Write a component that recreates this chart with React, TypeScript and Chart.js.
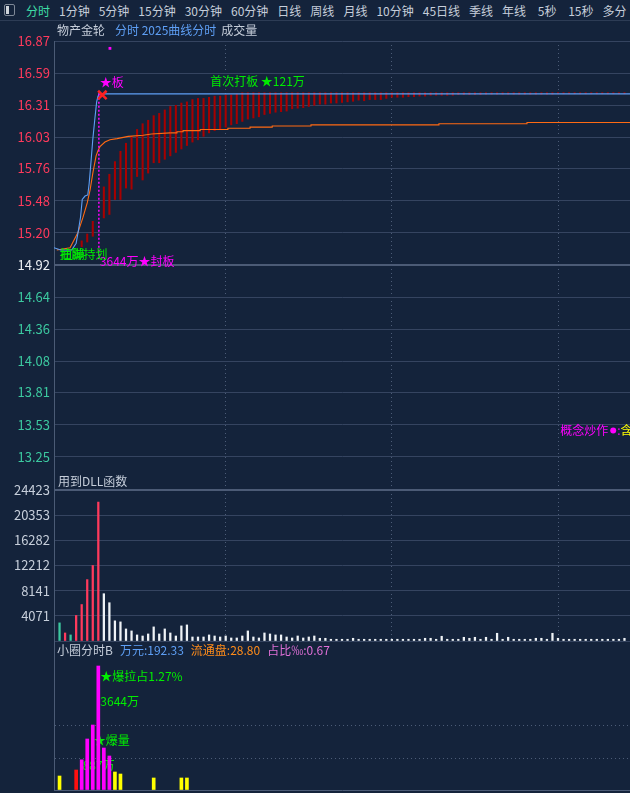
import React, { useEffect, useRef } from "react";
import { Chart, registerables } from "chart.js";

Chart.register(...registerables);

// ---- quote data, minutes counted from 9:30 ----
const prevClose = 14.92;
const limitUp = 16.41;
const priceMin = 12.97;
const priceMax = 16.87;
const priceTicks = [16.87, 16.59, 16.31, 16.03, 15.76, 15.48, 15.2, 14.92, 14.64, 14.36, 14.08, 13.81, 13.53, 13.25];
const timeGrid = [30, 60, 90];

const priceMinutes = [-1, 0.2, 2.2, 3.0, 3.4, 3.8, 4.1, 4.6, 5.1, 5.35, 5.65, 6.0, 6.35, 6.7, 6.95, 7.05, 103];
const prices = [15.07, 15.05, 15.05, 15.11, 15.22, 15.34, 15.49, 15.52, 15.53, 15.63, 15.8, 16.01, 16.18, 16.34, 16.39, 16.41, 16.41];

const avgEarlyMinutes = [-0.5, 1.9, 3.3, 4.2, 5.0, 5.5, 6.05, 6.6, 6.9, 7.3, 8.2, 9.1, 10.4, 12.4, 15.1, 16.6, 20];
const avgEarly = [15.05, 15.07, 15.2, 15.33, 15.46, 15.57, 15.73, 15.87, 15.91, 15.95, 15.99, 16.01, 16.02, 16.04, 16.05, 16.06, 16.07];
const avgLateMinutes = [20, 21.2, 22.3, 25.4, 30.4, 34.4, 38.4, 45.4, 68.5, 84.4, 103];
const avgLate = [16.07, 16.08, 16.09, 16.1, 16.11, 16.12, 16.13, 16.14, 16.15, 16.16, 16.16];

// indicator sticks per minute (low / high), null where none is drawn
const stickLow = [
  null, null, null, null, 15.08, 15.12, 15.17, null, 15.33, 15.36,
  15.49, 15.49, 15.59, 15.58, 15.69, 15.66, 15.72, 15.81, 15.81, 15.84,
  15.87, 15.9, 15.93, 15.96, 15.99, 16.01, 16.04, 16.07, 16.09, 16.1,
  16.12, 16.14, 16.15, 16.17, 16.19, 16.2, 16.21, 16.23, 16.24, 16.25,
  16.255, 16.26, 16.28, 16.285, 16.29, 16.3, 16.31, 16.32, 16.32, 16.33,
  16.33, 16.335, 16.34, 16.345, 16.355, 16.35, 16.36, 16.36, 16.36, 16.37,
  16.38, 16.38, 16.38, 16.385, 16.385, 16.39, 16.39, 16.397, 16.397, 16.397,
  16.397, 16.397, 16.403, 16.403, 16.403, 16.403, 16.403, 16.406, 16.406, 16.406,
  16.406, 16.406, 16.406, 16.406, 16.406, 16.406, 16.406, 16.406, 16.406, 16.406,
  16.41, 16.41, 16.41, 16.41, 16.41, 16.41, 16.41, 16.41, 16.41, 16.41,
  16.41, 16.41, 16.41,
];
const stickHigh = [
  null, null, null, null, 15.13, 15.19, 15.3, null, 15.6, 15.71,
  15.82, 15.91, 15.98, 16.04, 16.1, 16.15, 16.18, 16.22, 16.24, 16.27,
  16.3, 16.31, 16.33, 16.34, 16.36, 16.37, 16.37, 16.38, 16.39, 16.39,
  16.4, 16.4, 16.41, 16.42, 16.42, 16.42, 16.42, 16.42, 16.42, 16.42,
  16.42, 16.42, 16.42, 16.42, 16.42, 16.42, 16.42, 16.42, 16.42, 16.42,
  16.42, 16.42, 16.42, 16.42, 16.42, 16.42, 16.42, 16.42, 16.42, 16.42,
  16.42, 16.42, 16.42, 16.42, 16.42, 16.42, 16.42, 16.42, 16.42, 16.42,
  16.42, 16.42, 16.42, 16.42, 16.42, 16.42, 16.42, 16.42, 16.42, 16.42,
  16.42, 16.42, 16.42, 16.42, 16.42, 16.42, 16.42, 16.42, 16.42, 16.42,
  16.42, 16.42, 16.42, 16.42, 16.42, 16.42, 16.42, 16.42, 16.42, 16.42,
  16.42, 16.42, 16.42,
];

const sealMinute = 7.1;
const sealFloor = 14.97;
const crossMinute = 7.73;
const crossPrice = 16.4;
const dotMinute = 9.1;
const dotPrice = 16.806;

// ---- volume (hands per minute) ----
const volTicks = [24423, 20353, 16282, 12212, 8141, 4071, 0];
const volMax = 24423;
const volumes = [
  2930, 1300, 980, 4130, 5900, 9930, 12210, 22470, 7650, 6190,
  3260, 3090, 1950, 1630, 980, 810, 1140, 2280, 1140, 1950,
  1300, 810, 2440, 2600, 650, 650, 650, 980, 810, 650,
  810, 490, 490, 810, 1630, 650, 490, 1300, 1140, 980,
  980, 650, 490, 810, 490, 650, 810, 440, 440, 280,
  280, 280, 280, 440, 280, 280, 280, 280, 280, 280,
  280, 280, 280, 280, 280, 280, 440, 440, 280, 765,
  280, 280, 280, 600, 440, 600, 280, 600, 280, 1250,
  280, 600, 280, 280, 280, 280, 440, 440, 280, 1250,
  440, 280, 280, 280, 280, 280, 280, 280, 280, 280,
  280, 280, 440,
];
const volumeSide = ["down", "up", "down", "up", "up", "up", "up", "up"];

// ---- large-order amounts (万元) ----
const amountMinutes = [0, 3, 4, 5, 6, 7, 8, 9, 10, 11, 17, 22, 23];
const amounts = [411, 588, 887, 1499, 1910, 3644, 1234, 999, 529, 470, 353, 353, 353];
const amountKind = ["base", "lead", "burst", "burst", "burst", "burst", "burst", "burst", "base", "base", "base", "base", "base"];
const amountMax = 4379;
const amountGuides = [0, 940, 1910];
const turnoverWan = 192.33;
const floatShares = 28.8; // 亿股

const tabs = ["分时", "1分钟", "5分钟", "15分钟", "30分钟", "60分钟", "日线", "周线", "月线", "10分钟", "45日线", "季线", "年线", " 5秒", " 15秒", "多分"];

// ---- styles ----
const FONT = "'Noto Sans CJK SC', 'Noto Sans', sans-serif";
const BG = "#14233b";
const GRID = "#354460";
const GRID_STRONG = "#4c5b76";
const AXIS = "#4b5b75";
const DOT = "#4c5c77";
const TXT = "#c6ceda";
const RED = "#ff3a5c";
const TEAL = "#3cc9a0";
const WHITE = "#eef2f6";
const BLUE = "#5e9ff5";
const ORANGE = "#ff6a13";
const STICK = "#a80000";
const MAGENTA = "#ff00ff";
const GREEN = "#00ee00";

const timeAxis = (showGrid: boolean) => ({
  type: "linear" as const,
  min: -1,
  max: 103,
  offset: false,
  display: showGrid,
  ticks: { display: false },
  grid: { display: showGrid, offset: false, color: DOT, lineWidth: 1, drawTicks: false },
  border: { display: false, dash: [1, 3] },
  afterBuildTicks: (s: any) => {
    s.ticks = timeGrid.map((v) => ({ value: v }));
  },
  afterFit: (s: any) => {
    s.height = 0;
  },
});

const fixedWidth = (s: any) => {
  s.width = 54;
  s.paddingTop = 0;
  s.paddingBottom = 0;
};

function put(ctx: CanvasRenderingContext2D, text: string, x: number, y: number, color: string) {
  ctx.fillStyle = color;
  ctx.fillText(text, x, y);
  return x + ctx.measureText(text).width;
}

export default function App() {
  const priceRef = useRef<HTMLCanvasElement>(null);
  const volRef = useRef<HTMLCanvasElement>(null);
  const amtRef = useRef<HTMLCanvasElement>(null);

  useEffect(() => {
    Chart.defaults.font.family = FONT;
    Chart.defaults.font.size = 12;

    const stickData: any[] = [];
    stickLow.forEach((lo, i) => {
      const hi = stickHigh[i];
      if (lo != null && hi != null) stickData.push({ x: i, y: [lo, hi] });
    });

    const priceText = {
      id: "priceText",
      afterDatasetsDraw(chart: any) {
        const { ctx, chartArea, scales } = chart;
        const xs = scales.x;
        const ys = scales.y;
        ctx.save();
        ctx.font = `12px ${FONT}`;
        ctx.textBaseline = "middle";
        ctx.textAlign = "left";
        // header row
        let x = chartArea.left + 3;
        const hy = chartArea.top - 11;
        x = put(ctx, "物产金轮", x, hy, TXT) + 10;
        x = put(ctx, "分时 2025曲线分时", x, hy, BLUE) + 5;
        put(ctx, "成交量", x, hy, TXT);
        // marks around the limit-up seal
        put(ctx, "★板", xs.getPixelForValue(sealMinute) + 1, ys.getPixelForValue(limitUp) - 11, MAGENTA);
        put(ctx, "首次打板 ★121万", xs.getPixelForValue(27.2), ys.getPixelForValue(limitUp) - 12, GREEN);
        put(ctx, `${amounts[5]}万★封板`, xs.getPixelForValue(sealMinute) + 1, ys.getPixelForValue(prevClose) - 4, MAGENTA);
        put(ctx, "抽脚持划", xs.getPixelForValue(0), ys.getPixelForValue(prevClose) - 11, GREEN);
        put(ctx, "扭蹦", xs.getPixelForValue(0) + 1, ys.getPixelForValue(prevClose) - 11, GREEN);
        const ly = ys.getPixelForValue(13.48);
        let cx = put(ctx, "概念炒作", xs.getPixelForValue(90.4), ly, MAGENTA);
        ctx.fillStyle = MAGENTA;
        ctx.beginPath();
        ctx.arc(cx + 5, ly, 3, 0, Math.PI * 2);
        ctx.fill();
        cx = put(ctx, ":", cx + 9, ly, MAGENTA);
        put(ctx, "含", cx, ly, "#ffff00");
        // volume panel caption
        put(ctx, "用到DLL函数", chartArea.left + 4, chartArea.bottom - 8, TXT);
        ctx.restore();
      },
    };

    const price = new Chart(priceRef.current as HTMLCanvasElement, {
      type: "line",
      data: {
        datasets: [
          { type: "bar", data: stickData, backgroundColor: STICK, barThickness: 1.4, grouped: false, order: 6 } as any,
          { type: "line", data: avgEarlyMinutes.map((t, i) => ({ x: t, y: avgEarly[i] })), borderColor: ORANGE, borderWidth: 1.1, pointRadius: 0, order: 5 },
          { type: "line", data: avgLateMinutes.map((t, i) => ({ x: t, y: avgLate[i] })), borderColor: ORANGE, borderWidth: 1.1, pointRadius: 0, stepped: true, order: 5 },
          { type: "line", data: priceMinutes.map((t, i) => ({ x: t, y: prices[i] })), borderColor: BLUE, borderWidth: 1.1, pointRadius: 0, order: 4 },
          { type: "line", data: [{ x: sealMinute, y: limitUp }, { x: sealMinute, y: sealFloor }], borderColor: MAGENTA, borderWidth: 1.5, borderDash: [2, 2], pointRadius: 0, order: 3 },
          { type: "line", data: [{ x: crossMinute, y: crossPrice }], showLine: false, pointStyle: "crossRot", pointRadius: 6, borderColor: "#ff2020", borderWidth: 2.5, order: 2 },
          { type: "line", data: [{ x: dotMinute, y: dotPrice }], showLine: false, pointStyle: "rect", pointRadius: 2, backgroundColor: MAGENTA, borderColor: MAGENTA, borderWidth: 0, order: 1 },
        ],
      },
      options: {
        animation: false,
        responsive: false,
        maintainAspectRatio: false,
        layout: { autoPadding: false, padding: { top: 20, bottom: 2, left: 0, right: 0 } },
        plugins: { legend: { display: false }, tooltip: { enabled: false } },
        scales: {
          x: timeAxis(true) as any,
          y: {
            type: "linear",
            min: priceMin,
            max: priceMax,
            beginAtZero: false,
            afterBuildTicks: (s: any) => {
              s.ticks = priceTicks.map((v) => ({ value: v }));
            },
            afterFit: fixedWidth,
            ticks: {
              autoSkip: false,
              padding: 4,
              font: { size: 13, family: FONT },
              color: (c: any) => {
                const v = c.tick ? c.tick.value : 0;
                return v > prevClose ? RED : v === prevClose ? WHITE : TEAL;
              },
              callback: (v: any) => Number(v).toFixed(2),
            },
            grid: {
              drawTicks: false,
              color: (c: any) => (c.tick && c.tick.value === prevClose ? GRID_STRONG : GRID),
              lineWidth: (c: any) => (c.tick && c.tick.value === prevClose ? 2 : 1),
            },
            border: { color: AXIS },
          },
        },
      },
      plugins: [priceText],
    });

    const volume = new Chart(volRef.current as HTMLCanvasElement, {
      type: "bar",
      data: {
        datasets: [
          {
            data: volumes.map((v, i) => ({ x: i, y: v })),
            backgroundColor: volumes.map((_, i) => {
              const side = volumeSide[i] || "flat";
              return side === "up" ? RED : side === "down" ? TEAL : WHITE;
            }),
            barThickness: 1.6,
            grouped: false,
          } as any,
        ],
      },
      options: {
        animation: false,
        responsive: false,
        maintainAspectRatio: false,
        layout: { autoPadding: false, padding: { top: 9, bottom: 1, left: 0, right: 0 } },
        plugins: { legend: { display: false }, tooltip: { enabled: false } },
        scales: {
          x: timeAxis(true) as any,
          y: {
            type: "linear",
            min: 0,
            max: volMax,
            afterBuildTicks: (s: any) => {
              s.ticks = volTicks.map((v) => ({ value: v }));
            },
            afterFit: fixedWidth,
            ticks: {
              autoSkip: false,
              padding: 4,
              color: TXT,
              font: { size: 13, family: FONT },
              callback: (v: any) => (Number(v) === 0 ? "" : String(v)),
            },
            grid: {
              drawTicks: false,
              color: (c: any) => (c.tick && c.tick.value === volMax ? GRID_STRONG : GRID),
              lineWidth: (c: any) => (c.tick && c.tick.value === volMax ? 2 : 1),
            },
            border: { color: AXIS },
          },
        },
      },
    });

    const pct = ((amounts[5] / (floatShares * 10000)) * 100).toFixed(2);
    const permille = ((turnoverWan / (floatShares * 10000)) * 1000).toFixed(2);

    const amountText = {
      id: "amountText",
      beforeDatasetsDraw(chart: any) {
        const { ctx, chartArea, scales } = chart;
        const xs = scales.x;
        const ys = scales.y;
        ctx.save();
        ctx.font = `12px ${FONT}`;
        ctx.textBaseline = "middle";
        ctx.textAlign = "left";
        let x = chartArea.left + 3;
        const hy = chartArea.top + 9;
        x = put(ctx, "小圈分时B", x, hy, TXT) + 7;
        x = put(ctx, `万元:${turnoverWan.toFixed(2)}`, x, hy, BLUE) + 7;
        x = put(ctx, `流通盘:${floatShares.toFixed(2)}`, x, hy, "#ff8c1a") + 7;
        put(ctx, `占比‰:${permille}`, x, hy, "#e070d8");
        put(ctx, `★爆拉占${pct}%`, xs.getPixelForValue(7) + 2, ys.getPixelForValue(amounts[5]) + 10, GREEN);
        put(ctx, `${amounts[5]}万`, xs.getPixelForValue(7) + 2, ys.getPixelForValue(amounts[5]) + 35, GREEN);
        put(ctx, "★爆量", xs.getPixelForValue(6) + 1, ys.getPixelForValue(amounts[3]) + 1, GREEN);
        put(ctx, `${amounts[2]}万`, xs.getPixelForValue(4) + 1, ys.getPixelForValue(amounts[2]) + 6, GREEN);
        ctx.restore();
      },
    };

    const amount = new Chart(amtRef.current as HTMLCanvasElement, {
      type: "bar",
      data: {
        datasets: [
          {
            data: amountMinutes.map((t, i) => ({ x: t, y: amounts[i] })),
            backgroundColor: amountKind.map((k) => (k === "burst" ? MAGENTA : k === "lead" ? "#ff1010" : "#ffff00")),
            barThickness: 3,
            grouped: false,
          } as any,
        ],
      },
      options: {
        animation: false,
        responsive: false,
        maintainAspectRatio: false,
        layout: { autoPadding: false, padding: { top: 0, bottom: 3, left: 0, right: 0 } },
        plugins: { legend: { display: false }, tooltip: { enabled: false } },
        scales: {
          x: timeAxis(false) as any,
          y: {
            type: "linear",
            min: 0,
            max: amountMax,
            afterBuildTicks: (s: any) => {
              s.ticks = amountGuides.map((v) => ({ value: v }));
            },
            afterFit: fixedWidth,
            ticks: { display: false },
            grid: {
              drawTicks: false,
              color: (c: any) => (c.tick && c.tick.value === 0 ? GRID_STRONG : DOT),
              lineWidth: 1,
            },
            border: {
              color: AXIS,
              dash: (c: any) => (c.tick && c.tick.value !== 0 ? [1, 3] : []),
            },
          },
        },
      },
      plugins: [amountText],
    });

    return () => {
      price.destroy();
      volume.destroy();
      amount.destroy();
    };
  }, []);

  return (
    <div
      style={{
        position: "fixed",
        left: 0,
        top: 0,
        width: 630,
        height: 793,
        background: BG,
        overflow: "hidden",
        fontFamily: FONT,
      }}
    >
      <div
        style={{
          position: "absolute",
          left: 0,
          top: 0,
          width: 630,
          height: 20,
          borderBottom: "1px solid #2d3c55",
          display: "flex",
          alignItems: "center",
          fontSize: 12,
          color: TXT,
          whiteSpace: "pre",
        }}
      >
        <div
          style={{
            position: "absolute",
            left: 4,
            top: 4,
            width: 9,
            height: 10,
            border: "1px solid #7d8796",
            borderRadius: 2,
          }}
        >
          <div style={{ position: "absolute", left: 1, top: 1, width: 3, height: 8, background: "#cfd4db" }} />
        </div>
        <div style={{ position: "absolute", left: 26, top: 0, height: 20, display: "flex", alignItems: "center", gap: 9 }}>
          {tabs.map((t, i) => (
            <span key={i} style={{ color: i === 0 ? "#3fdca6" : TXT }}>
              {t}
            </span>
          ))}
        </div>
      </div>
      <canvas ref={priceRef} width={630} height={470} style={{ position: "absolute", left: 0, top: 21, width: 630, height: 470 }} />
      <canvas ref={volRef} width={630} height={161} style={{ position: "absolute", left: 0, top: 481, width: 630, height: 161 }} />
      <canvas ref={amtRef} width={630} height={152} style={{ position: "absolute", left: 0, top: 641, width: 630, height: 152 }} />
    </div>
  );
}
